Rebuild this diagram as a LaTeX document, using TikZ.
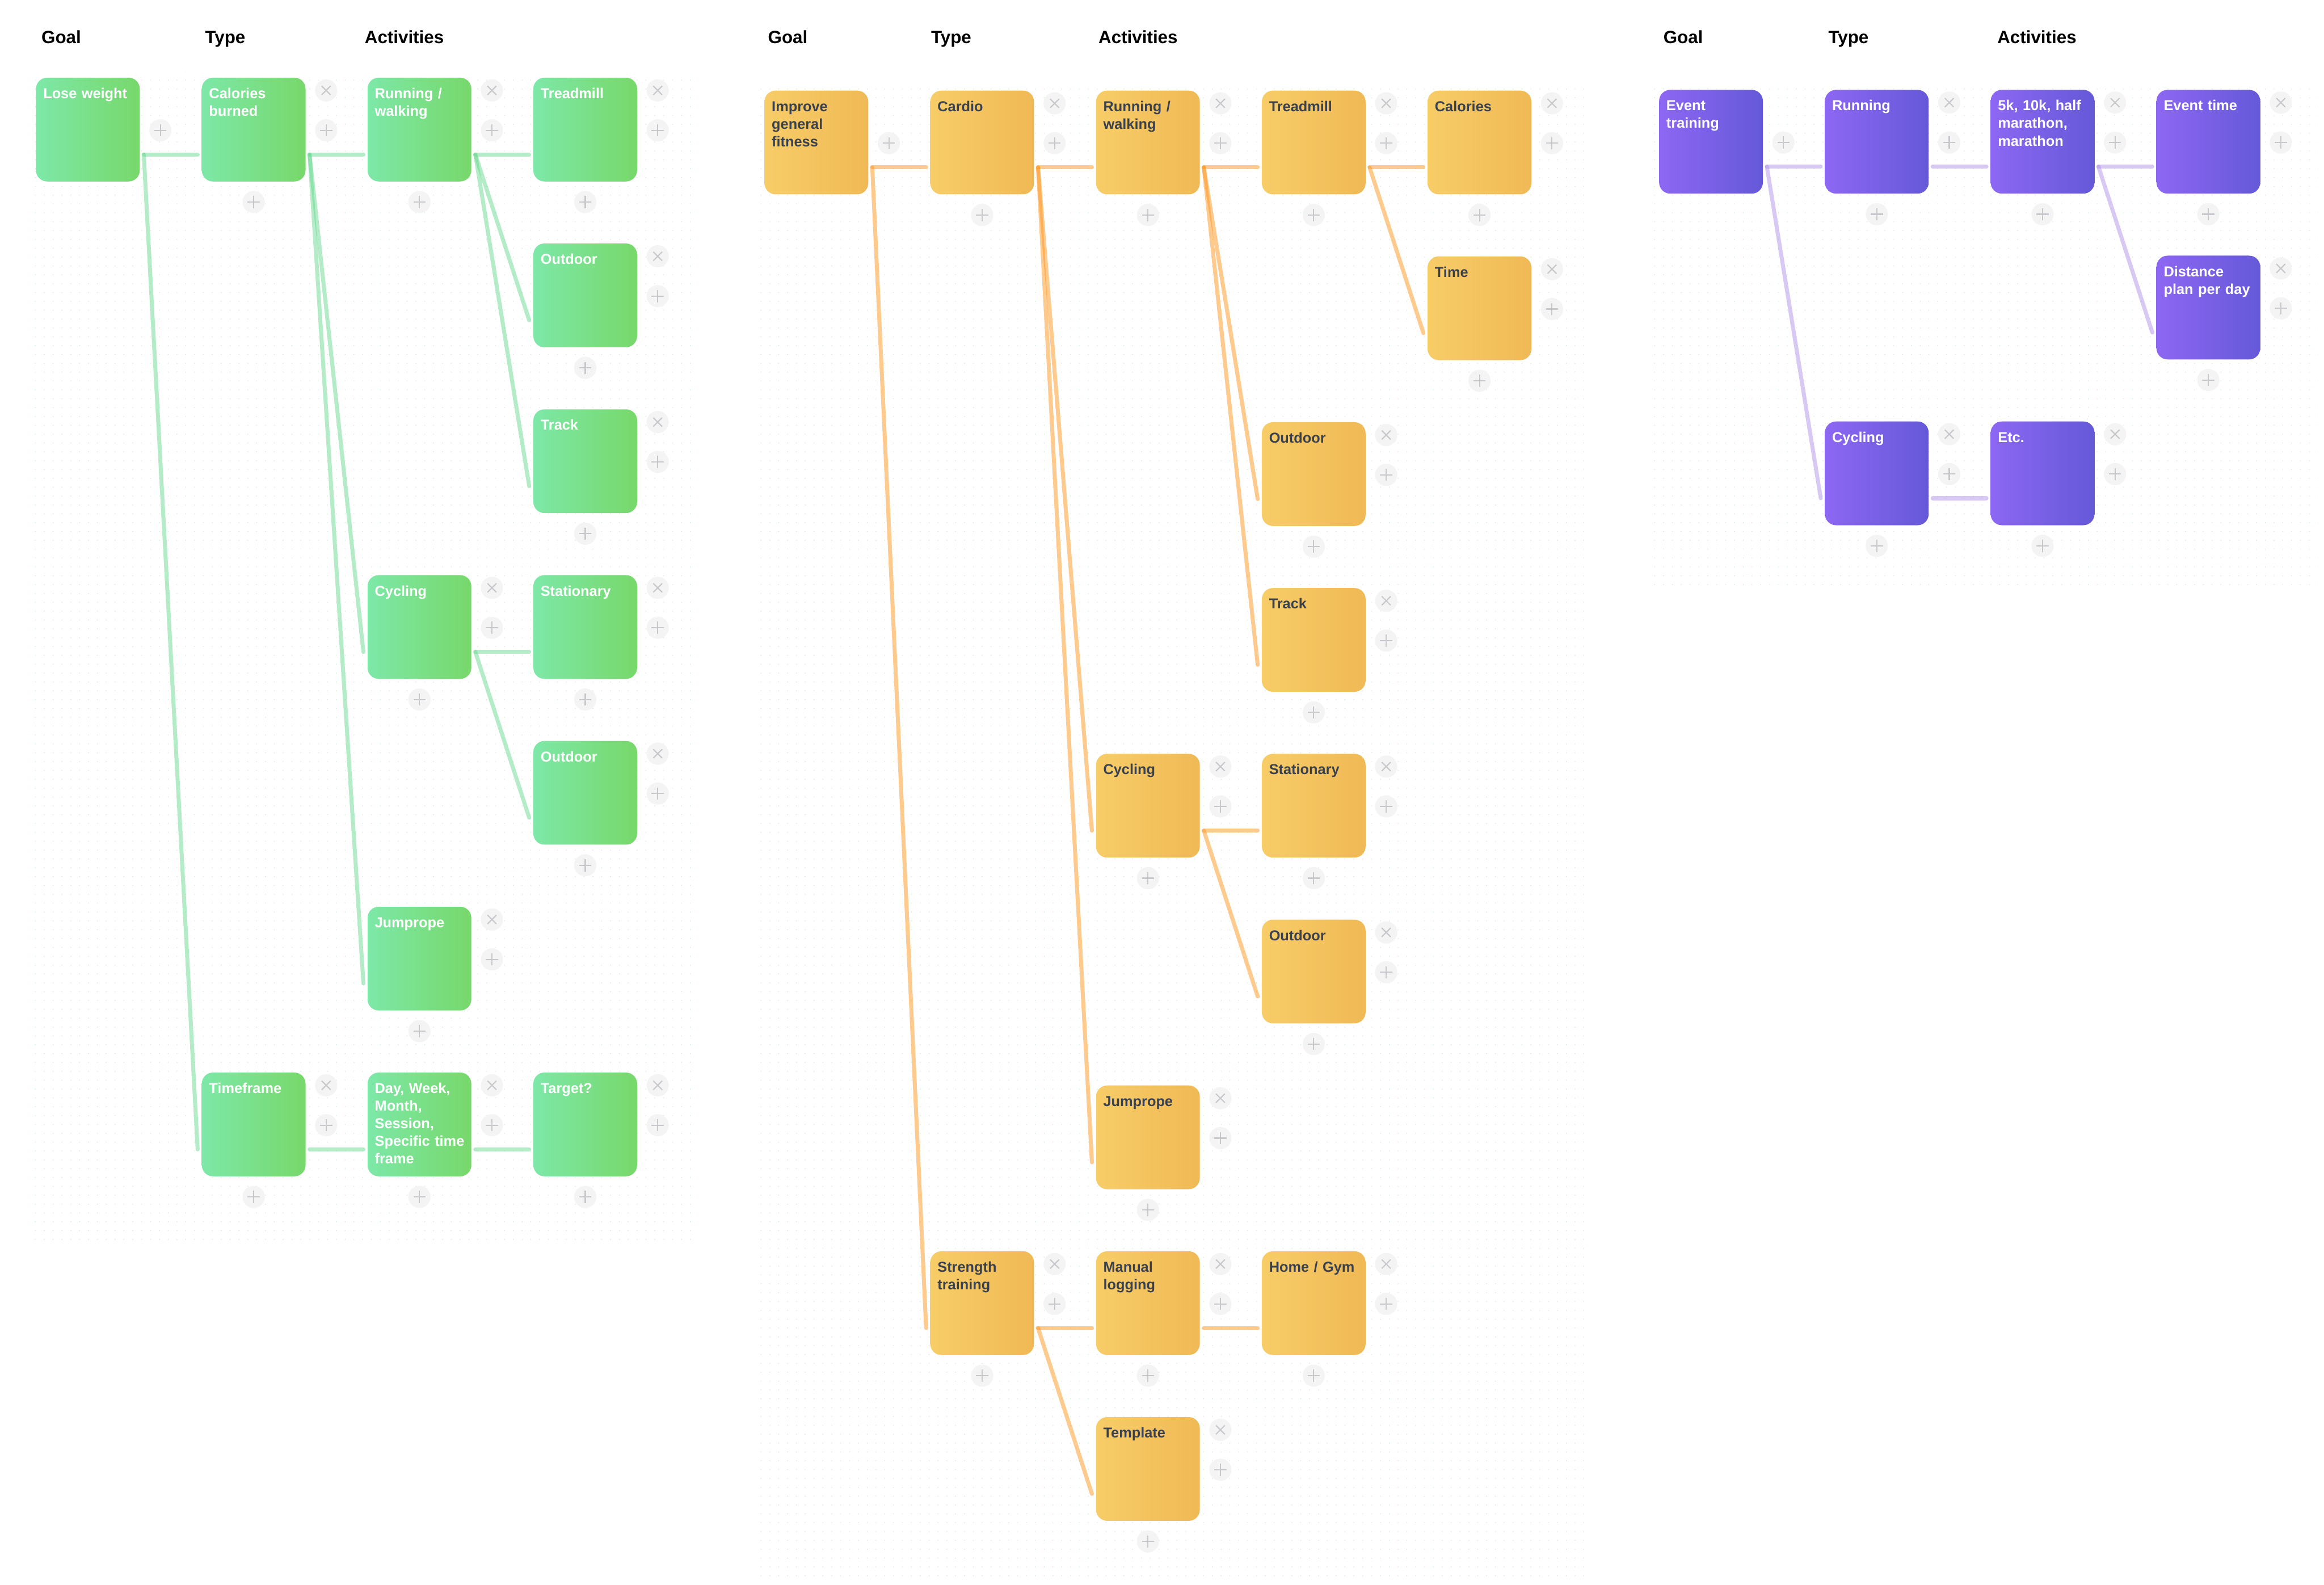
\documentclass[tikz,border=0pt]{standalone}
\usepackage{fontspec}
\setmainfont{Liberation Sans}
\usetikzlibrary{patterns.meta}
\definecolor{gL}{HTML}{7DE8A8}
\definecolor{gR}{HTML}{77D86A}
\definecolor{oL}{HTML}{F7CD68}
\definecolor{oR}{HTML}{F0B955}
\definecolor{pL}{HTML}{8D67F3}
\definecolor{pR}{HTML}{6559D8}
\definecolor{oText}{HTML}{394150}
\definecolor{btnbg}{HTML}{F4F4F5}
\definecolor{btnfg}{HTML}{C8C8CC}
\definecolor{dotc}{HTML}{CDEFCB}
\definecolor{gBase}{RGB}{105,217,145}
\definecolor{oBase}{RGB}{255,150,30}
\definecolor{pBase}{RGB}{177,145,233}
\pgfdeclarelayer{dotlayer}
\pgfdeclarelayer{linelayer}
\pgfsetlayers{dotlayer,linelayer,main}
\tikzset{
  card/.style={anchor=north west, minimum width=70pt, minimum height=70pt, inner sep=0pt, rounded corners=7.5pt, draw=none},
  gcard/.style={left color=gL, right color=gR},
  ocard/.style={left color=oL, right color=oR},
  pcard/.style={left color=pL, right color=pR},
  ctext/.style={anchor=base west, inner sep=0pt, text width=68pt, align=left, font=\fontsize{9.7}{11.9}\selectfont\bfseries},
  gtext/.style={text=white},
  otext/.style={text=oText},
  ptext/.style={text=white},
  head/.style={anchor=base west, inner sep=0pt, font=\fontsize{12}{14}\selectfont\bfseries, text=black},
  btn/.style={circle, fill=btnbg, minimum size=15pt, inner sep=0pt},
  glyph/.style={draw=btnfg, line width=0.8pt},
  conline/.style={line width=2.7pt, line cap=round, opacity=0.5},
  gline/.style={conline, draw=gBase},
  oline/.style={conline, draw=oBase},
  pline/.style={conline, draw=pBase},
  dotfill/.style={pattern={Dots[distance=5.97pt,radius=0.36pt]}, pattern color=dotc}
}
\newcommand\mkcard[7]{%
  \pgfmathsetmacro\cL{#2+#4*111.85}%
  \pgfmathsetmacro\cT{#3+#5*111.85}%
  \node[card,#6card] (#1) at (\cL,\cT) {};
  \node[ctext,#6text] (#1t) at ({\cL+4.9},{\cT+14.2}) {#7};
}
\newcommand\xbtn[1]{%
  \node[btn] (#1x) at ([shift={(13.7pt,-8.8pt)}]#1.north east) {};
  \draw[glyph] ([shift={(-3pt,-3pt)}]#1x.center) -- ([shift={(3pt,3pt)}]#1x.center)
               ([shift={(-3pt,3pt)}]#1x.center) -- ([shift={(3pt,-3pt)}]#1x.center);
}
\newcommand\rbtn[1]{%
  \node[btn] (#1r) at ([shift={(13.7pt,-35.7pt)}]#1.north east) {};
  \draw[glyph] ([shift={(-4.1pt,0pt)}]#1r.center) -- ([shift={(4.1pt,0pt)}]#1r.center)
               ([shift={(0pt,4.1pt)}]#1r.center) -- ([shift={(0pt,-4.1pt)}]#1r.center);
}
\newcommand\bbtn[1]{%
  \node[btn] (#1b) at ([shift={(0pt,-13.7pt)}]#1.south) {};
  \draw[glyph] ([shift={(-4.1pt,0pt)}]#1b.center) -- ([shift={(4.1pt,0pt)}]#1b.center)
               ([shift={(0pt,4.1pt)}]#1b.center) -- ([shift={(0pt,-4.1pt)}]#1b.center);
}
\newcommand\allbtn[1]{\xbtn{#1}\rbtn{#1}\bbtn{#1}}
\newcommand\conn[3]{\draw[#1] ([shift={(2.5pt,-52pt)}]#2.north east) -- ([shift={(-2.6pt,-52pt)}]#3.north west);}
\begin{document}
\begin{tikzpicture}[x=1pt,y=-1pt]
\useasboundingbox (0,0) rectangle (1568,1068.95);
% headers
\node[head] (hg1) at (27.8,29.2) {Goal};
\node[head] (ht1) at (138.2,29.2) {Type};
\node[head] (ha1) at (245.9,29.2) {Activities};
\node[head] (hg2) at (518,29.2) {Goal};
\node[head] (ht2) at (628,29.2) {Type};
\node[head] (ha2) at (741,29.2) {Activities};
\node[head] (hg3) at (1122.1,29.2) {Goal};
\node[head] (ht3) at (1233.4,29.2) {Type};
\node[head] (ha3) at (1347.4,29.2) {Activities};
% green panel
\def\XG{24.1}\def\YG{52.2}
\mkcard{gA}{\XG}{\YG}{0}{0}{g}{Lose weight}
\mkcard{gB}{\XG}{\YG}{1}{0}{g}{Calories\\burned}
\mkcard{gC}{\XG}{\YG}{2}{0}{g}{Running /\\walking}
\mkcard{gD}{\XG}{\YG}{3}{0}{g}{Treadmill}
\mkcard{gE}{\XG}{\YG}{3}{1}{g}{Outdoor}
\mkcard{gF}{\XG}{\YG}{3}{2}{g}{Track}
\mkcard{gG}{\XG}{\YG}{2}{3}{g}{Cycling}
\mkcard{gH}{\XG}{\YG}{3}{3}{g}{Stationary}
\mkcard{gI}{\XG}{\YG}{3}{4}{g}{Outdoor}
\mkcard{gJ}{\XG}{\YG}{2}{5}{g}{Jumprope}
\mkcard{gK}{\XG}{\YG}{1}{6}{g}{Timeframe}
\mkcard{gL}{\XG}{\YG}{2}{6}{g}{Day, Week,\\Month,\\Session,\\Specific time\\frame}
\mkcard{gM}{\XG}{\YG}{3}{6}{g}{Target?}
% orange panel
\def\XO{515.6}\def\YO{60.9}
\mkcard{oA}{\XO}{\YO}{0}{0}{o}{Improve\\general\\fitness}
\mkcard{oB}{\XO}{\YO}{1}{0}{o}{Cardio}
\mkcard{oC}{\XO}{\YO}{2}{0}{o}{Running /\\walking}
\mkcard{oD}{\XO}{\YO}{3}{0}{o}{Treadmill}
\mkcard{oE}{\XO}{\YO}{4}{0}{o}{Calories}
\mkcard{oF}{\XO}{\YO}{4}{1}{o}{Time}
\mkcard{oG}{\XO}{\YO}{3}{2}{o}{Outdoor}
\mkcard{oH}{\XO}{\YO}{3}{3}{o}{Track}
\mkcard{oI}{\XO}{\YO}{2}{4}{o}{Cycling}
\mkcard{oJ}{\XO}{\YO}{3}{4}{o}{Stationary}
\mkcard{oK}{\XO}{\YO}{3}{5}{o}{Outdoor}
\mkcard{oL}{\XO}{\YO}{2}{6}{o}{Jumprope}
\mkcard{oM}{\XO}{\YO}{1}{7}{o}{Strength\\training}
\mkcard{oN}{\XO}{\YO}{2}{7}{o}{Manual\\logging}
\mkcard{oO}{\XO}{\YO}{3}{7}{o}{Home / Gym}
\mkcard{oP}{\XO}{\YO}{2}{8}{o}{Template}
% purple panel
\def\XP{1119.2}\def\YP{60.4}
\mkcard{pA}{\XP}{\YP}{0}{0}{p}{Event\\training}
\mkcard{pB}{\XP}{\YP}{1}{0}{p}{Running}
\mkcard{pC}{\XP}{\YP}{2}{0}{p}{5k, 10k, half\\marathon,\\marathon}
\mkcard{pD}{\XP}{\YP}{3}{0}{p}{Event time}
\mkcard{pE}{\XP}{\YP}{3}{1}{p}{Distance\\plan per day}
\mkcard{pF}{\XP}{\YP}{1}{2}{p}{Cycling}
\mkcard{pG}{\XP}{\YP}{2}{2}{p}{Etc.}
% buttons
\rbtn{gA}\rbtn{oA}\rbtn{pA}
\allbtn{gB}\allbtn{gC}\allbtn{gD}\allbtn{gE}\allbtn{gF}\allbtn{gG}\allbtn{gH}
\allbtn{gI}\allbtn{gJ}\allbtn{gK}\allbtn{gL}\allbtn{gM}
\allbtn{oB}\allbtn{oC}\allbtn{oD}\allbtn{oE}\allbtn{oF}\allbtn{oG}\allbtn{oH}
\allbtn{oI}\allbtn{oJ}\allbtn{oK}\allbtn{oL}\allbtn{oM}\allbtn{oN}\allbtn{oO}\allbtn{oP}
\allbtn{pB}\allbtn{pC}\allbtn{pD}\allbtn{pE}\allbtn{pF}\allbtn{pG}
% connectors
\begin{pgfonlayer}{linelayer}
\conn{gline}{gA}{gB}\conn{gline}{gA}{gK}
\conn{gline}{gB}{gC}\conn{gline}{gB}{gG}\conn{gline}{gB}{gJ}
\conn{gline}{gC}{gD}\conn{gline}{gC}{gE}\conn{gline}{gC}{gF}
\conn{gline}{gG}{gH}\conn{gline}{gG}{gI}
\conn{gline}{gK}{gL}\conn{gline}{gL}{gM}
\conn{oline}{oA}{oB}\conn{oline}{oA}{oM}
\conn{oline}{oB}{oC}\conn{oline}{oB}{oI}\conn{oline}{oB}{oL}
\conn{oline}{oC}{oD}\conn{oline}{oC}{oG}\conn{oline}{oC}{oH}
\conn{oline}{oD}{oE}\conn{oline}{oD}{oF}
\conn{oline}{oI}{oJ}\conn{oline}{oI}{oK}
\conn{oline}{oM}{oN}\conn{oline}{oM}{oP}
\conn{oline}{oN}{oO}
\conn{pline}{pA}{pB}\conn{pline}{pA}{pF}
\conn{pline}{pB}{pC}
\conn{pline}{pC}{pD}\conn{pline}{pC}{pE}
\conn{pline}{pF}{pG}
\end{pgfonlayer}
% dotted backgrounds
\begin{pgfonlayer}{dotlayer}
\fill[dotfill] (20.5,48.5) rectangle (468.5,837.5);
\fill[dotfill] (512,56.5) rectangle (1074,1066.5);
\fill[dotfill] (1115.5,56.5) rectangle (1564,398);
\end{pgfonlayer}
\end{tikzpicture}
\end{document}
